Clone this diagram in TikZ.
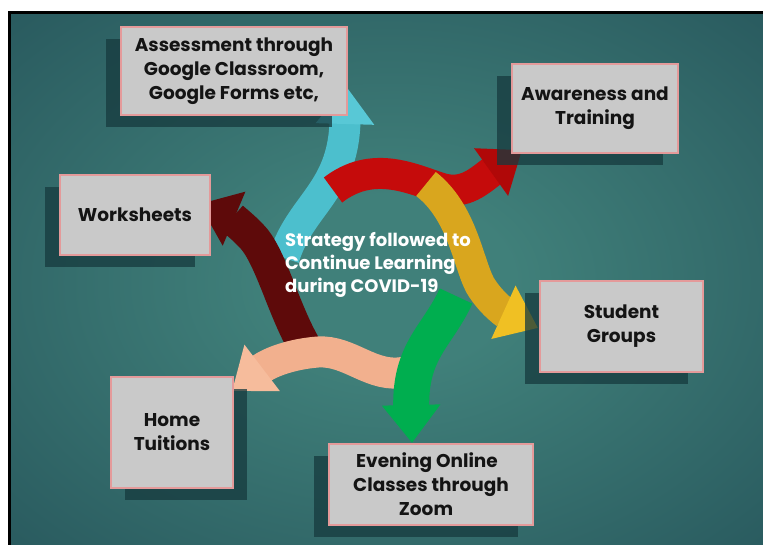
\documentclass[tikz,border=0pt]{standalone}
\usepackage{fontspec}
\setmainfont{Poppins}
\usetikzlibrary{arrows.meta,shadows}
\definecolor{bgin}{HTML}{40807A}
\definecolor{bgout}{HTML}{1D4650}
\definecolor{boxfill}{HTML}{C9C9C9}
\definecolor{boxline}{HTML}{E49A9A}
\definecolor{shadowc}{HTML}{163A3E}
\definecolor{cyanA}{HTML}{4CBFCD}
\definecolor{cyanB}{HTML}{58C8D6}
\definecolor{redA}{HTML}{C50B0B}
\definecolor{redB}{HTML}{B00808}
\definecolor{goldA}{HTML}{D9A61E}
\definecolor{goldB}{HTML}{F0C023}
\definecolor{greenA}{HTML}{00AE4F}
\definecolor{peachA}{HTML}{F2B08E}
\definecolor{peachB}{HTML}{F6BC9C}
\definecolor{maroonA}{HTML}{5E0A0A}
\pgfdeclareradialshading{bgshade}{\pgfpoint{0bp}{0bp}}{color(0bp)=(bgin); color(8bp)=(bgin); color(50bp)=(bgout)}
\tikzset{
  infobox/.style={draw=boxline, line width=1.6pt, fill=boxfill, inner sep=0pt, align=center,
    font=\fontsize{18.5}{24}\selectfont\bfseries, text=black!92},
  shl/.style={general shadow={fill=shadowc, opacity=0.75, shadow xshift=-15pt, shadow yshift=-12pt}},
  shr/.style={general shadow={fill=shadowc, opacity=0.75, shadow xshift=14pt, shadow yshift=-12pt}},
  swirl/.style 2 args={line width=#1, -{Triangle[length=38pt,width=56pt,fill=#2,color=#2]}},
}
\begin{document}
\begin{tikzpicture}[x=1pt,y=-1pt]
\useasboundingbox (0,0) rectangle (763,545);
\fill[white] (0,0) rectangle (763,545);
\shade[shading=bgshade] (9,13) rectangle (772,552);
\draw[line width=3pt, black] (9,13) rectangle (772,552);

% named tips of the arrows
\coordinate (tc) at (346,86);
\coordinate (tr) at (522,150);
\coordinate (ty) at (538,328);
\coordinate (tg) at (412,443);
\coordinate (tp) at (232,391);
\coordinate (tm) at (199,204);

% swirl arrows
\draw[swirl={31pt}{cyanB}, cyanA] (284,258) .. controls (300,205) and (343,192) .. (tc);
\draw[swirl={33pt}{maroonA}, maroonA] (304,345) .. controls (284,310) and (272,262) .. (255,240) .. controls (245,228) and (230,217) .. (tm);
\draw[swirl={31pt}{peachB}, peachA] (405,372) .. controls (372,379) and (350,350) .. (318,352) .. controls (292,354) and (270,362) .. (tp);
\draw[swirl={36pt}{greenA}, greenA] (456,296) .. controls (438,336) and (410,350) .. (tg);
\draw[swirl={31pt}{redB}, redA] (333,190) .. controls (372,160) and (410,178) .. (440,188) .. controls (465,196) and (480,180) .. (tr);
\draw[swirl={31pt}{goldB}, goldA] (426,184) .. controls (462,212) and (468,262) .. (480,285) .. controls (490,302) and (505,313) .. (ty);

% boxes
\node[infobox, shl, minimum width=226pt, minimum height=88pt] (assess) at (234,71)
  {Assessment through\\Google Classroom,\\Google Forms etc,};
\node[infobox, shl, minimum width=166pt, minimum height=89pt] (aware) at (595,108.5)
  {Awareness and\\Training};
\node[infobox, shl, minimum width=163pt, minimum height=91pt] (student) at (621.5,326.5)
  {Student\\Groups};
\node[infobox, shl, minimum width=204pt, minimum height=81pt] (evening) at (431,484.5)
  {Evening Online\hspace*{8pt}\\Classes through\hspace*{24pt}\\Zoom\hspace*{10pt}};
\node[infobox, shl, minimum width=150pt, minimum height=80pt] (work) at (135,215)
  {Worksheets};
\node[infobox, shr, minimum width=122pt, minimum height=111pt] (home) at (172,432.5)
  {Home\\Tuitions};

% centre text
\node[anchor=west, align=left, text=white, inner sep=0pt,
  font=\fontsize{18}{23}\selectfont\bfseries] (centre) at (285,265)
  {Strategy followed to\\Continue Learning\\during COVID-19};
\end{tikzpicture}
\end{document}
